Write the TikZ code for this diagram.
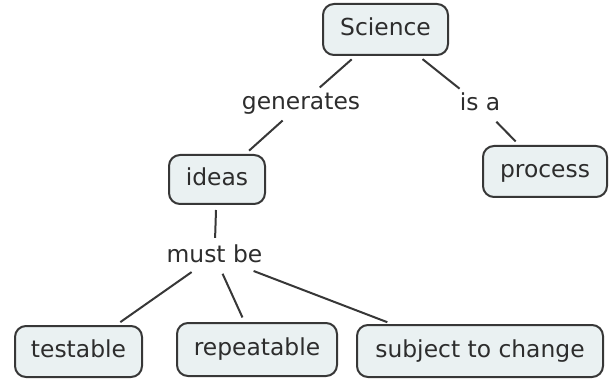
\documentclass[tikz,border=0pt]{standalone}
\usepackage{fontspec}
\setmainfont{DejaVu Sans}
\usetikzlibrary{positioning}
\definecolor{boxFill}{RGB}{234, 241, 242}
\definecolor{boxLine}{RGB}{55, 55, 55}
\definecolor{txtC}{RGB}{45, 45, 45}

\begin{document}
\begin{tikzpicture}[x=1pt, y=-1pt,
    concept/.style={draw=boxLine, fill=boxFill, line width=2pt,
      rounded corners=11pt, text=txtC, inner sep=0pt,
      text height=17pt, text depth=5pt, minimum height=51pt,
      font=\fontsize{23.4}{28}\selectfont},
    linkword/.style={text=txtC, inner sep=2pt,
      text height=17pt, text depth=5pt,
      font=\fontsize{23.4}{28}\selectfont},
    link/.style={draw=boxLine, line width=2pt,
      shorten <=5pt, shorten >=5pt}]
        % picture frame, 612 x 379
        \useasboundingbox (0, 0) rectangle (612, 379);

        % ── Top: Science and its two link phrases ──────────────────────
        \node[concept, minimum width=125pt] (science) at (385.5, 29.5) {Science};
        \node[linkword] (generates) at (301, 104) {generates};
        \node[linkword] (isa) at (480, 105) {is a};

        % ── Middle row ─────────────────────────────────────────────────
        \node[concept, minimum width=96pt, minimum height=49pt] (ideas)
              at (217, 179.5) {ideas};
        \node[concept, minimum width=124pt] (process) at (545, 171.5) {process};
        \node[linkword] (mustbe) at (214.5, 256) {must be};

        % ── Bottom row ─────────────────────────────────────────────────
        \node[concept, minimum width=127pt] (testable) at (78.5, 351.5) {testable};
        \node[concept, minimum width=160pt, minimum height=53pt] (repeatable)
              at (257, 349.5) {repeatable};
        \node[concept, minimum width=246pt, minimum height=52pt] (subject)
              at (480, 351) {subject to change};

        % ── Connectors ─────────────────────────────────────────────────
        \draw[link] (science) -- (generates);
        \draw[link] (generates) -- (ideas);
        \draw[link] (science) -- (isa);
        \draw[link] (isa) -- (process);
        \draw[link] (ideas) -- (mustbe);
        \draw[link] (mustbe) -- (testable);
        \draw[link] (mustbe) -- (repeatable);
        \draw[link] (mustbe) -- ([xshift=36pt]subject.north west);
      \end{tikzpicture}
\end{document}
